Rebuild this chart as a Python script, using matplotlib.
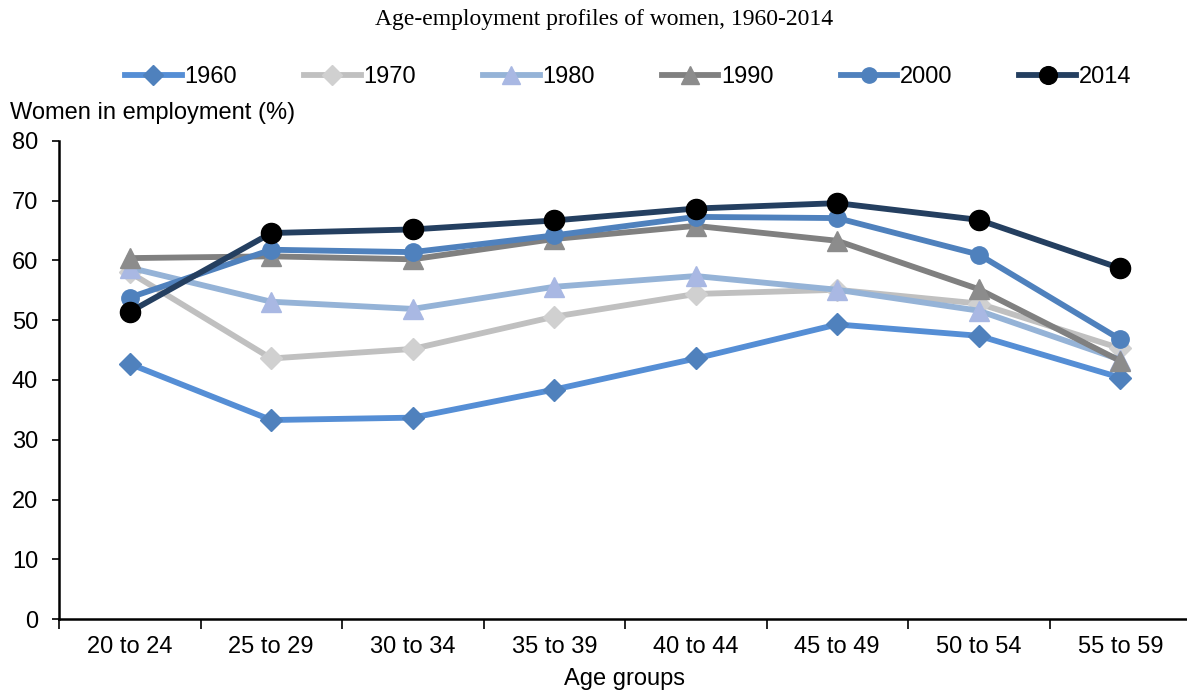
import matplotlib.pyplot as plt
import numpy as np

# age groups and employment rates (%) per cohort year
age_groups = ["20 to 24", "25 to 29", "30 to 34", "35 to 39",
              "40 to 44", "45 to 49", "50 to 54", "55 to 59"]
years = ["1960", "1970", "1980", "1990", "2000", "2014"]
emp_1960 = [42.7, 33.3, 33.7, 38.4, 43.6, 49.3, 47.4, 40.4]
emp_1970 = [58.0, 43.6, 45.2, 50.6, 54.4, 55.1, 52.8, 45.3]
emp_1980 = [58.8, 53.1, 51.9, 55.6, 57.4, 55.1, 51.6, 43.4]
emp_1990 = [60.4, 60.7, 60.2, 63.6, 65.8, 63.3, 55.2, 43.2]
emp_2000 = [53.8, 61.8, 61.4, 64.2, 67.3, 67.1, 61.0, 46.8]
emp_2014 = [51.4, 64.6, 65.2, 66.7, 68.7, 69.6, 66.8, 58.7]
series = [emp_1960, emp_1970, emp_1980, emp_1990, emp_2000, emp_2014]

line_cols = ["#558ed5", "#c0c0c0", "#95b3d7", "#808080", "#4f81bd", "#243f60"]
mark_cols = ["#4f81bd", "#d0d0d0", "#a9b8e3", "#8c8c8c", "#4f81bd", "#000000"]
markers = ["D", "D", "^", "^", "o", "o"]
msizes = [11, 11, 14, 14, 12.5, 14.5]

fnt = "Liberation Sans"

fig = plt.figure(figsize=(11.87, 6.92), dpi=100)
ax = fig.add_axes([59 / 1187, 1 - 619 / 692, (1191 - 59) / 1187, (619 - 141) / 692])

x = np.arange(len(age_groups))
for vals, yr, lc, mc, mk, ms in zip(series, years, line_cols, mark_cols, markers, msizes):
    ax.plot(x, vals, color=lc, lw=4.2, marker=mk, ms=ms, mfc=mc, mec=mc,
            label=yr, solid_joinstyle="round", clip_on=False)

ax.set_xlim(-0.5, len(age_groups) - 0.5)
ax.set_ylim(0, 80)
ax.set_yticks(range(0, 81, 10))
ax.set_xticks(x)
ax.set_xticklabels(age_groups, family=fnt, fontsize=17)
ax.set_xticks(np.arange(-0.5, len(age_groups), 1), minor=True)
ax.tick_params(axis="x", which="major", length=0, pad=12)
ax.tick_params(axis="x", which="minor", length=7, width=1.2, direction="out")
ax.tick_params(axis="y", length=5, width=1.2, direction="out", pad=10)
for lab in ax.get_yticklabels():
    lab.set_family(fnt)
    lab.set_fontsize(17)

for s in ["top", "right"]:
    ax.spines[s].set_visible(False)
for s in ["left", "bottom"]:
    ax.spines[s].set_linewidth(1.8)

fig.text(604 / 1187, 1 - 20 / 692, "Age-employment profiles of women, 1960-2014",
         family="Liberation Serif", fontsize=17, ha="center", va="center")
fig.text(10 / 1187, 1 - 113 / 692, "Women in employment (%)",
         family=fnt, fontsize=17, ha="left", va="center")
fig.text(624 / 1187, 2 / 692, "Age groups",
         family=fnt, fontsize=17, ha="center", va="bottom")

leg = fig.legend(loc="center", bbox_to_anchor=(628 / 1187, 1 - 77 / 692), ncol=6,
                 frameon=False, prop={"family": fnt, "size": 17},
                 handlelength=2.4, handletextpad=0.1, columnspacing=2.85,
                 markerscale=0.88)

fig.savefig("out.png", dpi=100)
